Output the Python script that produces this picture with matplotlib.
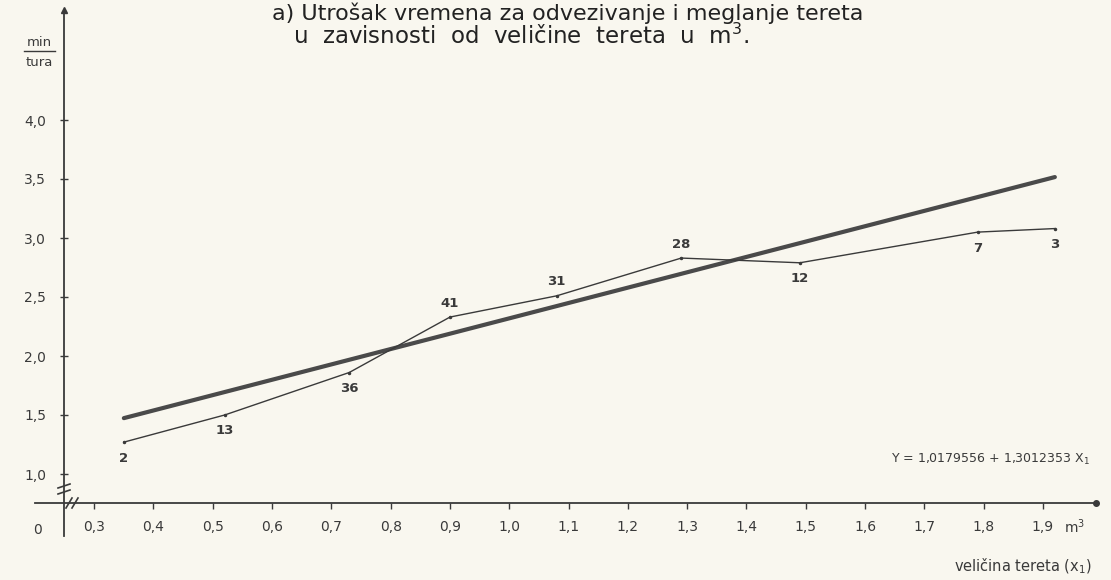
import matplotlib
matplotlib.use("Agg")
import matplotlib.pyplot as plt
from matplotlib.ticker import FuncFormatter

# load size (m3) vs. time (min/tura), numbers = count of observations
load_x = [0.35, 0.52, 0.73, 0.90, 1.08, 1.29, 1.49, 1.79, 1.92]
time_y = [1.27, 1.50, 1.86, 2.33, 2.51, 2.83, 2.79, 3.05, 3.08]
counts = [2, 13, 36, 41, 31, 28, 12, 7, 3]
label_side = ['below', 'below', 'below', 'above', 'above', 'above', 'below', 'below', 'below']

# regression Y = a + b * X1
reg_a = 1.0179556
reg_b = 1.3012353

x_ticks = [0.3, 0.4, 0.5, 0.6, 0.7, 0.8, 0.9, 1.0, 1.1, 1.2, 1.3, 1.4, 1.5, 1.6, 1.7, 1.8, 1.9]
y_ticks = [1.0, 1.5, 2.0, 2.5, 3.0, 3.5, 4.0]

W, H = 1111, 580
ink = '#3a3a3a'
paper = '#f9f7ef'

fig = plt.figure(figsize=(W / 100, H / 100), dpi=100, facecolor=paper)
ax = fig.add_axes([0, 0, 1, 1])
ax.set_facecolor(paper)

# scale: 0.1 m3 = 59.3 px, 1 min = 118 px
xlim = (0.9 - 450 / 593, 0.9 + (W - 450) / 593)
ylim = (1.0 - (H - 474) / 118, 1.0 + 474 / 118)
ax.set_xlim(*xlim)
ax.set_ylim(*ylim)


def dx(px):
    return xlim[0] + px / W * (xlim[1] - xlim[0])


def dy(py):
    return ylim[1] - py / H * (ylim[1] - ylim[0])


# axes (broken near origin)
y_axis_x = dx(64)
x_axis_y = dy(503)
for s in ['top', 'right']:
    ax.spines[s].set_visible(False)
ax.spines['left'].set_position(('data', y_axis_x))
ax.spines['bottom'].set_position(('data', x_axis_y))
ax.spines['left'].set_bounds(dy(536), dy(12))
ax.spines['bottom'].set_bounds(dx(35), dx(1093))
for s in ['left', 'bottom']:
    ax.spines[s].set_color(ink)
    ax.spines[s].set_linewidth(1.3)
ax.plot([y_axis_x], [dy(10)], marker='^', ms=5, color=ink, clip_on=False)
ax.plot([dx(1096)], [x_axis_y], marker='o', ms=4, color=ink, clip_on=False)

# break marks
for off in [-3, 3]:
    ax.plot([dx(58), dx(70)], [dy(489 + off + 2), dy(489 + off - 2)], color=ink, lw=1.2)
    ax.plot([dx(72 + off - 3), dx(72 + off + 3)], [dy(508), dy(498)], color=ink, lw=1.2)

fmt = FuncFormatter(lambda v, p: f"{v:.1f}".replace('.', ','))
ax.set_xticks(x_ticks)
ax.set_yticks(y_ticks)
ax.xaxis.set_major_formatter(fmt)
ax.yaxis.set_major_formatter(fmt)
ax.tick_params(axis='x', direction='out', length=4, width=1, color=ink,
               labelcolor=ink, labelsize=10, pad=8)
ax.tick_params(axis='y', direction='inout', length=6, width=1, color=ink,
               labelcolor=ink, labelsize=10, pad=10)

# regression line
x_end = [min(load_x), max(load_x)]
ax.plot(x_end, [reg_a + reg_b * v for v in x_end], color='#4a4a4a', lw=3.0,
        solid_capstyle='round')

# observed means
ax.plot(load_x, time_y, color=ink, lw=1.0, marker='.', ms=3)
for x, y, n, side in zip(load_x, time_y, counts, label_side):
    off = -16 if side == 'below' else 14
    ax.annotate(str(n), (x, y), xytext=(0, off), textcoords='offset pixels',
                ha='center', va='center', fontsize=9.5, fontweight='bold', color=ink)

# texts
fig.text(38 / W, 1 - 530 / H, '0', ha='center', va='center', fontsize=10, color=ink)
fig.text(1075 / W, 1 - 527 / H, 'm$^3$', ha='center', va='center', fontsize=10, color=ink)
fig.text(1090 / W, 1 - 459 / H, 'Y = 1,0179556 + 1,3012353 X$_1$', ha='right', va='center',
         fontsize=9, color=ink)
fig.text(1092 / W, 1 - 566 / H, 'veličina tereta (x$_1$)', ha='right', va='center',
         fontsize=10.5, color=ink)
fig.text(39 / W, 1 - 42 / H, 'min', ha='center', va='center', fontsize=9.5, color=ink)
fig.text(39 / W, 1 - 62 / H, 'tura', ha='center', va='center', fontsize=9.5, color=ink)
fig.add_artist(plt.Line2D([24 / W, 55 / W], [1 - 51 / H, 1 - 51 / H], color=ink, lw=1))

fig.text(272 / W, 1 - 20 / H, 'a) Utrošak vremena za odvezivanje i meglanje tereta',
         ha='left', va='baseline', fontsize=16, color='#222222')
fig.text(293 / W, 1 - 44 / H, 'u  zavisnosti  od  veličine  tereta  u  m$^3$.',
         ha='left', va='baseline', fontsize=16.5, color='#222222')

fig.savefig('out.png', dpi=100, facecolor=paper)
